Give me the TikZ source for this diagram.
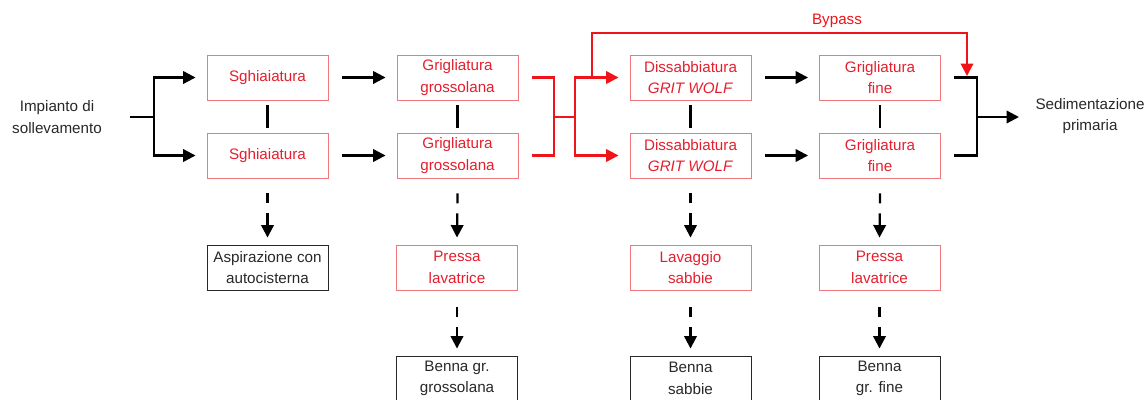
\documentclass[tikz,border=0pt]{standalone}
\usepackage{fontspec}
\setmainfont{Liberation Sans}
\usetikzlibrary{arrows.meta}
\definecolor{procred}{RGB}{230,30,45}
\definecolor{boxred}{RGB}{240,120,125}
\definecolor{flowred}{RGB}{238,20,25}
\definecolor{ink}{RGB}{40,40,40}
\begin{document}
\begin{tikzpicture}[x=1pt,y=-1pt,
  font=\fontsize{15.2}{21.5}\selectfont,
  box/.style={draw, minimum width=121pt, minimum height=45pt, align=center, inner sep=0pt, line width=0.9pt},
  redbox/.style={box, draw=boxred, text=procred},
  graybox/.style={box, draw=ink, text=ink},
  plain/.style={align=center, text=ink},
  link/.style={line width=2.2pt, draw=black},
  flow/.style={link, -{Triangle[length=12.5pt,width=12.5pt]}},
  redlink/.style={line width=2.2pt, draw=flowred},
  redflow/.style={redlink, -{Triangle[length=12.5pt,width=12.5pt]}},
  waste/.style={flow, dash pattern=on 10pt off 10pt on 60pt}
]
\clip (0,0) rectangle (1148,399);

% main line
\node[plain] (src) at (57,117) {Impianto di\\sollevamento};
\node[redbox] (s1) at (267.5,77.5) {Sghiaiatura};
\node[redbox] (s2) at (267.5,155.5) {Sghiaiatura};
\node[redbox] (g1) at (457.5,77.5) {Grigliatura\\grossolana};
\node[redbox] (g2) at (457.5,155.5) {Grigliatura\\grossolana};
\node[redbox] (d1) at (690.5,77.5) {Dissabbiatura\\\textit{GRIT WOLF}};
\node[redbox] (d2) at (690.5,155.5) {Dissabbiatura\\\textit{GRIT WOLF}};
\node[redbox] (f1) at (880,77.5) {Grigliatura\\fine};
\node[redbox] (f2) at (880,155.5) {Grigliatura\\fine};
\node[plain] (sed) at (1090,116) {Sedimentazione\\primaria};
\node[text=flowred] (bylabel) at (837,21) {Bypass};

% residue handling
\node[graybox] (a1) at (267.5,267.5) {Aspirazione con\\autocisterna};
\node[redbox] (p1) at (457,267.5) {Pressa\\lavatrice};
\node[graybox] (b1) at (457,378.5) {Benna gr.\\grossolana};
\node[redbox] (l1) at (690.5,267.5) {Lavaggio\\sabbie};
\node[graybox] (b2) at (690.5,378.5) {Benna\\sabbie};
\node[redbox] (p2) at (879.5,267.5) {Pressa\\lavatrice};
\node[graybox] (b3) at (879.5,378.5) {Benna\\gr. fine};

% junction points
\coordinate (srcout) at (130,117);
\coordinate (forkA) at (154,117);
\coordinate (mergeA) at (554,117);
\coordinate (splitA) at (575,117);
\coordinate (bypassout) at (592,77.5);
\coordinate (bypasstop) at (967,33);
\coordinate (bypassin) at (967,76);
\coordinate (mergeB) at (977,117);
\coordinate (sedin) at (1019,117);

% inlet split
\draw[link] (srcout) -- (forkA);
\draw[flow] (forkA) |- ([xshift=-11pt]s1.west);
\draw[flow] (forkA) |- ([xshift=-11pt]s2.west);

% stage to stage
\draw[flow] ([xshift=14pt]s1.east) -- ([xshift=-11pt]g1.west);
\draw[flow] ([xshift=14pt]s2.east) -- ([xshift=-11pt]g2.west);
\draw[flow] ([xshift=14pt]d1.east) -- ([xshift=-11pt]f1.west);
\draw[flow] ([xshift=14pt]d2.east) -- ([xshift=-11pt]f2.west);

% parallel lines tied together
\draw[link] ([yshift=-5pt]s1.south) -- ([yshift=5pt]s2.north);
\draw[link] ([yshift=-5pt]g1.south) -- ([yshift=5pt]g2.north);
\draw[link] ([yshift=-5pt]d1.south) -- ([yshift=5pt]d2.north);
\draw[link] ([yshift=-5pt]f1.south) -- ([yshift=5pt]f2.north);

% red collector and redistribution
\draw[redlink] ([xshift=14pt]g1.east) -| (mergeA) |- ([xshift=14pt]g2.east);
\draw[redlink] (mergeA) -- (splitA);
\draw[redflow] (splitA) |- ([xshift=-11pt]d1.west);
\draw[redflow] (splitA) |- ([xshift=-11pt]d2.west);
\draw[redflow] (bypassout) |- (bypasstop) -- (bypassin);

% outlet collector
\draw[link] ([xshift=13pt]f1.east) -| (mergeB) |- ([xshift=13pt]f2.east);
\draw[flow] (mergeB) -- (sedin);

% residue lines
\draw[waste] ([yshift=-15pt]s2.south) -- ([yshift=7pt]a1.north);
\draw[waste] ([yshift=-15pt]g2.south) -- ([yshift=7pt]p1.north);
\draw[waste] ([yshift=-17pt]p1.south) -- ([yshift=7pt]b1.north);
\draw[waste] ([yshift=-15pt]d2.south) -- ([yshift=7pt]l1.north);
\draw[waste] ([yshift=-17pt]l1.south) -- ([yshift=7pt]b2.north);
\draw[waste] ([yshift=-15pt]f2.south) -- ([yshift=7pt]p2.north);
\draw[waste] ([yshift=-17pt]p2.south) -- ([yshift=7pt]b3.north);
\end{tikzpicture}
\end{document}
